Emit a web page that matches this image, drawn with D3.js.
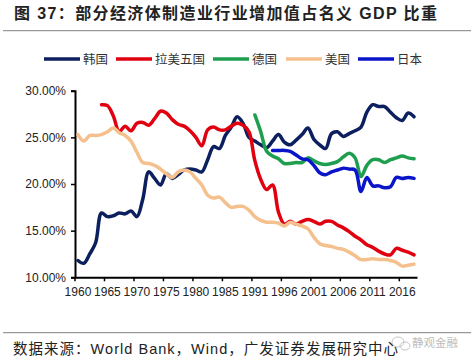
<!DOCTYPE html>
<html><head><meta charset="utf-8">
<script src="https://cdn.jsdelivr.net/npm/d3@7"></script>
<style>
html,body{margin:0;padding:0;background:#fff;}
svg{display:block;}
</style></head>
<body>
<svg id="c" width="474" height="361"></svg>
<script>
// ---- data ----
const years = [];
for (let y = 1960; y <= 2018; y++) if (y !== 1990) years.push(String(y));
const tickYears = ["1960","1965","1970","1975","1980","1985","1991","1996","2001","2006","2011","2016"];
const yTicks = [10, 15, 20, 25, 30];

const korea = [11.8,11.5,12.5,13.7,16.9,16.5,16.6,16.9,16.8,17.1,16.5,18.4,21.3,20.6,19.9,21.1,20.6,21.0,21.5,21.6,
  21.5,21.3,22.6,24.0,23.8,25.2,26.1,27.2,26.5,25.0,24.6,24.2,23.9,24.6,25.3,24.5,24.2,24.7,25.3,26.0,
  24.8,24.2,23.8,25.4,25.6,25.1,25.4,25.7,26.1,27.7,28.5,28.3,28.3,27.7,27.1,26.8,27.6,27.2];
const latam = [null,null,null,null,28.5,28.4,27.3,25.6,26.2,25.7,26.5,26.6,26.3,27.0,27.8,27.6,26.9,26.4,26.2,25.7,
  25.0,24.1,25.8,26.1,25.8,25.8,26.2,26.5,26.3,25.6,22.5,20.5,19.4,19.9,17.0,15.7,16.0,15.7,16.0,16.2,
  16.0,15.7,16.0,16.0,15.6,15.3,14.9,14.4,14.0,13.5,13.2,12.8,12.5,12.4,13.1,12.9,12.7,12.4];
const germany = [null,null,null,null,null,null,null,null,null,null,null,null,null,null,null,null,null,null,null,null,
  null,null,null,null,null,null,null,null,null,null,27.4,25.6,23.5,23.0,22.7,22.2,22.2,22.3,22.3,22.8,
  22.5,22.2,22.1,22.2,22.4,22.9,23.3,22.8,20.8,22.0,22.6,22.6,22.3,22.6,22.8,23.0,22.8,22.7];
const usa = [25.3,24.6,25.2,25.2,25.3,25.6,26.0,25.5,25.2,24.6,23.4,22.3,22.2,22.0,21.6,21.1,20.7,21.3,21.5,21.3,
  20.6,19.9,18.8,18.5,18.6,18.0,17.5,17.6,17.6,17.2,16.5,16.1,15.9,15.9,15.8,15.5,15.9,15.7,15.5,15.2,
  14.3,13.6,13.4,13.3,13.1,13.0,12.7,12.3,11.9,11.9,12.0,11.9,11.9,11.8,11.6,11.2,11.3,11.4];
const japan = [null,null,null,null,null,null,null,null,null,null,null,null,null,null,null,null,null,null,null,null,
  null,null,null,null,null,null,null,null,null,null,null,null,null,23.6,23.6,23.6,23.5,23.1,22.7,22.6,
  22.0,21.2,21.0,21.3,21.5,21.7,21.6,21.5,19.2,20.7,19.8,19.8,19.6,19.7,20.7,20.6,20.7,20.6];

const seriesNames = ["韩国","拉美五国","德国","美国","日本"];
const seriesColors = ["#0c1f5e","#e0000f","#1f9e4f","#f4c08e","#0a14c8"];
const seriesValues = [korea, latam, germany, usa, japan];

// ---- chart ----
const svg = d3.select("#c");
const FONT_CJK = "'Noto Sans CJK SC', 'Noto Sans', sans-serif";
const FONT_MIX = "'Liberation Sans', 'Noto Sans CJK SC', Arial, sans-serif";
const FONT_LAT = "'Liberation Sans', Arial, sans-serif";

// title
svg.append("text").attr("x", 14).attr("y", 18.5)
  .attr("font-family", FONT_MIX).attr("font-size", 16).attr("font-weight", "bold")
  .attr("fill", "#222").attr("textLength", 423).attr("lengthAdjust", "spacing")
  .text("图 37：部分经济体制造业行业增加值占名义 GDP 比重");
svg.append("line").attr("x1", 3).attr("x2", 471).attr("y1", 30.7).attr("y2", 30.7)
  .attr("stroke", "#808080").attr("stroke-width", 1);

// scales
const x = d3.scaleBand().domain(years).range([75, 417]).paddingInner(0).paddingOuter(0);
const y = d3.scaleLinear().domain([10, 30]).range([277.3, 90.7]);
const bw = x.bandwidth();

// y axis
const gy = svg.append("g").attr("transform", "translate(75,0)")
  .call(d3.axisLeft(y).tickValues(yTicks).tickSize(4).tickPadding(5).tickFormat(d => d.toFixed(2) + "%"));
gy.select(".domain").attr("stroke", "#000").attr("stroke-width", 2);
gy.selectAll(".tick line").attr("stroke", "#000").attr("stroke-width", 1.5);
gy.selectAll(".tick text").attr("font-family", FONT_LAT).attr("font-size", 12).attr("fill", "#222");

// x axis
const gx = svg.append("g").attr("transform", "translate(0,277.3)")
  .call(d3.axisBottom(x).tickValues(tickYears).tickSize(4).tickPadding(6).tickSizeOuter(0));
gx.select(".domain").attr("stroke", "#000").attr("stroke-width", 2);
gx.selectAll(".tick line").attr("stroke", "#000").attr("stroke-width", 1.5)
  .attr("x1", -bw / 2).attr("x2", -bw / 2);
gx.selectAll(".tick text").attr("font-family", FONT_LAT).attr("font-size", 12).attr("fill", "#222");

// lines
const line = d3.line()
  .defined(d => d.v !== null)
  .x(d => x(d.yr) + bw / 2)
  .y(d => y(d.v))
  .curve(d3.curveCatmullRom.alpha(0.5));

seriesValues.forEach((vals, k) => {
  const data = years.map((yr, i) => ({ yr, v: vals[i] }));
  svg.append("path").datum(data)
    .attr("d", line)
    .attr("fill", "none")
    .attr("stroke", seriesColors[k])
    .attr("stroke-width", 3.5)
    .attr("stroke-linejoin", "round")
    .attr("stroke-linecap", "round");
});

// legend
const legendX = [44, 116, 213, 286, 358];
const lg = svg.append("g");
seriesNames.forEach((n, k) => {
  lg.append("line").attr("x1", legendX[k]).attr("x2", legendX[k] + 36)
    .attr("y1", 59).attr("y2", 59)
    .attr("stroke", seriesColors[k]).attr("stroke-width", 3.5);
  lg.append("text").attr("x", legendX[k] + 39).attr("y", 64)
    .attr("font-family", FONT_CJK).attr("font-size", 12.5).attr("fill", "#333")
    .text(n);
});

// footer
svg.append("line").attr("x1", 3).attr("x2", 471).attr("y1", 332.7).attr("y2", 332.7)
  .attr("stroke", "#808080").attr("stroke-width", 1);
svg.append("text").attr("x", 13).attr("y", 354)
  .attr("font-family", FONT_MIX).attr("font-size", 14.5).attr("fill", "#222")
  .attr("textLength", 385).attr("lengthAdjust", "spacing")
  .text("数据来源：World Bank，Wind，广发证券发展研究中心");

// watermark
const wm = svg.append("g").attr("opacity", 0.55);
wm.append("ellipse").attr("cx", 398).attr("cy", 342).attr("rx", 6).attr("ry", 5)
  .attr("fill", "none").attr("stroke", "#999").attr("stroke-width", 1);
wm.append("ellipse").attr("cx", 405).attr("cy", 346).attr("rx", 5).attr("ry", 4)
  .attr("fill", "none").attr("stroke", "#999").attr("stroke-width", 1);
wm.append("text").attr("x", 412).attr("y", 346.5)
  .attr("font-family", FONT_CJK).attr("font-size", 11.5).attr("fill", "#888")
  .text("静观金融");
</script>
</body></html>
